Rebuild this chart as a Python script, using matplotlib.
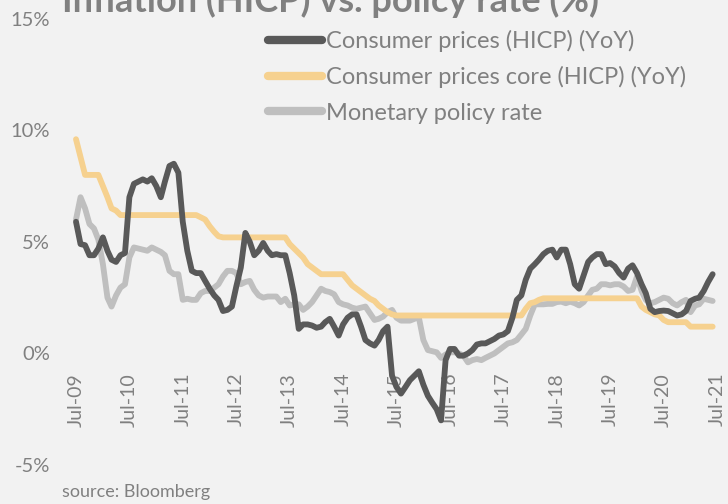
import matplotlib
matplotlib.use("Agg")
import matplotlib.pyplot as plt
import matplotlib.dates as mdates
from matplotlib.lines import Line2D
import pandas as pd

# monthly values, Jul-09 .. Jun-21
start_month = "2009-07-01"

cpi = [
    5.9, 4.9, 4.85, 4.4, 4.4, 4.7, 5.2, 4.6, 4.2, 4.1, 4.4, 4.5,
    7.0, 7.6, 7.7, 7.8, 7.7, 7.85, 7.5, 7.0, 7.7, 8.4, 8.5, 8.1,
    5.9, 4.6, 3.7, 3.6, 3.6, 3.25, 2.9, 2.6, 2.4, 1.9, 1.95, 2.1,
    3.0, 3.85, 5.4, 5.0, 4.4, 4.6, 4.95, 4.6, 4.4, 4.45, 4.4, 4.4,
    3.6, 2.6, 1.1, 1.3, 1.3, 1.25, 1.15, 1.2, 1.4, 1.55, 1.2, 0.8,
    1.3, 1.6, 1.75, 1.75, 1.2, 0.6, 0.45, 0.35, 0.6, 1.0, 1.2, -1.0,
    -1.5, -1.8, -1.5, -1.2, -1.0, -0.8, -1.4, -1.9, -2.2, -2.5, -3.0, -0.3,
    0.2, 0.2, -0.1, -0.1, 0.0, 0.15, 0.4, 0.45, 0.45, 0.55, 0.65, 0.8,
    0.85, 1.0, 1.6, 2.4, 2.6, 3.3, 3.8, 4.0, 4.2, 4.45, 4.6, 4.65,
    4.3, 4.65, 4.65, 4.0, 3.1, 2.9, 3.5, 4.1, 4.3, 4.45, 4.45, 4.0,
    4.05, 3.9, 3.6, 3.4, 3.8, 3.95, 3.6, 3.1, 2.7, 2.0, 1.85, 1.9,
    1.92, 1.9, 1.8, 1.7, 1.75, 1.9, 2.35, 2.45, 2.5, 2.8, 3.2, 3.55,
]

core = [
    9.6, 8.8, 8.0, 8.0, 8.0, 8.0, 7.5, 7.0, 6.5, 6.4, 6.2, 6.2,
    6.2, 6.2, 6.2, 6.2, 6.2, 6.2, 6.2, 6.2, 6.2, 6.2, 6.2, 6.2,
    6.2, 6.2, 6.2, 6.2, 6.1, 6.0, 5.7, 5.45, 5.25, 5.2, 5.2, 5.2,
    5.2, 5.2, 5.2, 5.2, 5.2, 5.2, 5.2, 5.2, 5.2, 5.2, 5.2, 5.2,
    4.9, 4.7, 4.5, 4.3, 4.0, 3.85, 3.7, 3.55, 3.55, 3.55, 3.55, 3.55,
    3.55, 3.3, 3.05, 2.9, 2.75, 2.6, 2.45, 2.35, 2.15, 2.0, 1.85, 1.75,
    1.7, 1.7, 1.7, 1.7, 1.7, 1.7, 1.7, 1.7, 1.7, 1.7, 1.7, 1.7,
    1.7, 1.7, 1.7, 1.7, 1.7, 1.7, 1.7, 1.7, 1.7, 1.7, 1.7, 1.7,
    1.7, 1.7, 1.7, 1.7, 1.7, 2.0, 2.25, 2.3, 2.4, 2.47, 2.47, 2.47,
    2.47, 2.47, 2.47, 2.47, 2.47, 2.47, 2.47, 2.47, 2.47, 2.47, 2.47, 2.47,
    2.47, 2.47, 2.47, 2.47, 2.47, 2.47, 2.47, 2.1, 1.95, 1.85, 1.75, 1.7,
    1.5, 1.4, 1.4, 1.4, 1.4, 1.4, 1.2, 1.2, 1.2, 1.2, 1.2, 1.2,
]

policy = [
    6.0, 7.0, 6.5, 5.8, 5.6, 5.1, 4.0, 2.5, 2.1, 2.6, 2.95, 3.1,
    4.3, 4.75, 4.7, 4.65, 4.6, 4.75, 4.65, 4.55, 4.4, 3.7, 3.55, 3.55,
    2.4, 2.45, 2.4, 2.4, 2.7, 2.8, 2.8, 2.95, 3.1, 3.45, 3.7, 3.7,
    3.6, 3.1, 3.2, 3.25, 2.85, 2.6, 2.5, 2.55, 2.55, 2.55, 2.3, 2.45,
    2.15, 2.2, 2.2, 1.95, 2.1, 2.3, 2.6, 2.9, 2.8, 2.75, 2.65, 2.3,
    2.2, 2.15, 2.05, 2.0, 2.05, 2.1, 1.8, 1.5, 1.55, 1.65, 1.85, 1.95,
    1.6, 1.47, 1.47, 1.47, 1.55, 1.62, 0.6, 0.15, 0.1, 0.05, -0.2, -0.05,
    0.05, 0.05, 0.0, -0.1, -0.4, -0.3, -0.25, -0.3, -0.2, -0.1, 0.0, 0.15,
    0.3, 0.45, 0.5, 0.6, 0.85, 1.1, 1.7, 2.2, 2.2, 2.2, 2.22, 2.22,
    2.3, 2.32, 2.25, 2.32, 2.25, 2.15, 2.3, 2.6, 2.85, 2.9, 3.1, 3.1,
    3.05, 3.1, 3.1, 3.0, 2.8, 2.85, 3.45, 2.8, 2.4, 2.25, 2.3, 2.4,
    2.5, 2.45, 2.25, 2.15, 2.3, 2.4, 1.85, 2.15, 2.2, 2.45, 2.4, 2.35,
]

series_labels = [
    "Consumer prices (HICP) (YoY)",
    "Consumer prices core (HICP) (YoY)",
    "Monetary policy rate",
]
y_ticks = [-5, 0, 5, 10, 15]
title = "Inflation (HICP) vs. policy rate (%)"
source = "source: Bloomberg"

dates = pd.date_range(start_month, periods=len(cpi), freq="MS")
tick_dates = pd.date_range("2009-07-01", "2021-07-01", freq="12MS")

bg = "#f2f2f2"
text_col = "#808080"
colors = ["#595959", "#f6d18f", "#bfbfbf"]
# narrow face if present, else Lato
plt.rcParams["font.family"] = ["Liberation Sans Narrow", "Lato", "DejaVu Sans"]

fig = plt.figure(figsize=(7.28, 5.04), dpi=100, facecolor=bg)
ax = fig.add_axes([70 / 728, 39 / 504, 652 / 728, 446.3 / 504])
ax.set_facecolor(bg)

# draw order: policy, core, cpi on top
for vals, c in [(policy, colors[2]), (core, colors[1]), (cpi, colors[0])]:
    ax.plot(dates, vals, color=c, lw=4.2, solid_joinstyle="round", solid_capstyle="round")

ax.set_ylim(-5, 15)
ax.set_yticks(y_ticks)
ax.set_yticklabels([f"{t}%" for t in y_ticks])
ax.set_xlim(pd.Timestamp("2009-05-21"), pd.Timestamp("2021-08-04"))
ax.set_xticks(tick_dates)
ax.xaxis.set_major_formatter(mdates.DateFormatter("%b-%y"))

for s in ["top", "right", "left"]:
    ax.spines[s].set_visible(False)
ax.spines["bottom"].set_position(("data", 0))
ax.spines["bottom"].set_visible(False)

ax.tick_params(axis="y", length=0, pad=14.5, labelsize=14.5, labelcolor=text_col)
ax.tick_params(axis="x", length=0, pad=14, labelsize=14, labelcolor=text_col, labelrotation=90)

fig.text(62 / 728, 1 - 12 / 504, title, fontsize=26, fontweight="bold", color=text_col,
         ha="left", va="baseline")
fig.text(62 / 728, 1 - 492 / 504, source, fontsize=13, color=text_col, ha="left", va="center")

handles = [Line2D([0], [0], color=c, lw=6, solid_capstyle="round") for c in colors]
fig.legend(handles, series_labels, loc="upper left", bbox_to_anchor=(268 / 728, 1 - 30 / 504),
           frameon=False, fontsize=17, labelcolor=text_col, handlelength=2.3,
           handletextpad=0.15, labelspacing=0.6, borderpad=0, borderaxespad=0)

fig.savefig("out.png", dpi=100, facecolor=bg)
